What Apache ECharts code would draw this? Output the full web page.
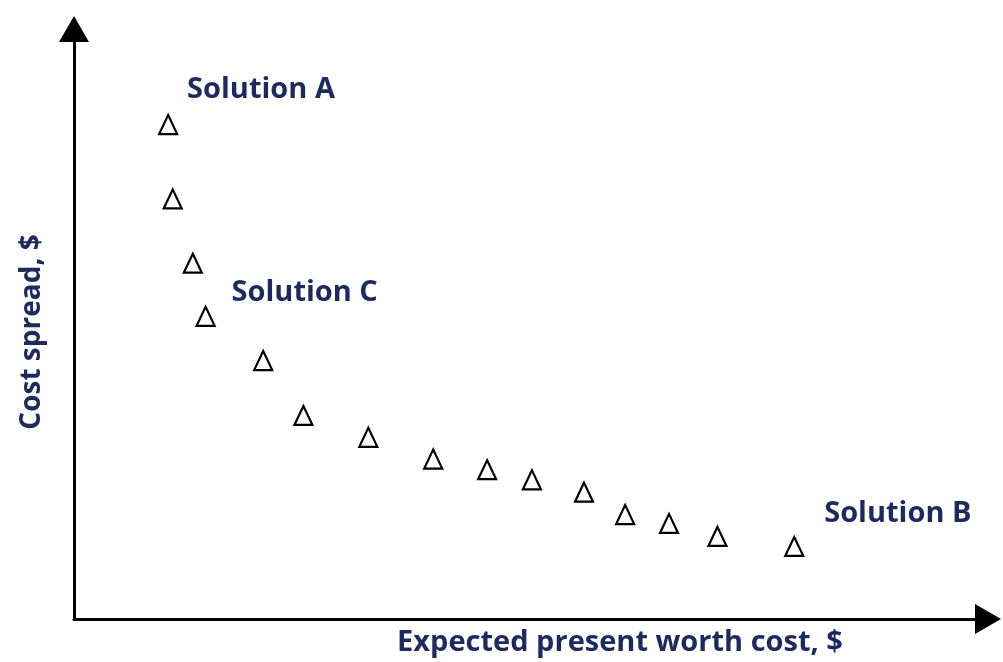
<!DOCTYPE html>
<html>
<head>
<meta charset="utf-8">
<script src="https://cdn.jsdelivr.net/npm/echarts@6/dist/echarts.min.js"></script>
<style>
  html, body { margin: 0; padding: 0; background: #ffffff; }
  #chart { width: 1003px; height: 662px; }
</style>
</head>
<body>
<div id="chart"></div>
<script>
// Trade-off front: expected present worth cost vs. cost spread (relative units)
const expectedCost = [10.3, 10.8, 13.0, 14.4, 20.7, 25.1, 32.2, 39.3, 45.2, 50.1, 55.8, 60.3, 65.1, 70.4, 78.8];
const costSpread   = [83.8, 71.2, 60.3, 51.3, 43.8, 34.5, 30.8, 27.1, 25.3, 23.6, 21.5, 17.7, 16.2, 14.0, 12.3];

// Named solutions on the front (point index -> caption)
const solutionIndex = [0, 3, 14];
const solutionName  = ['Solution A', 'Solution C', 'Solution B'];

const xTitle = 'Expected present worth cost, $';
const yTitle = 'Cost spread, $';

const navy = '#1f2a5c';
const fontFamily = '"Open Sans", "Noto Sans", sans-serif';

// Caption placement relative to each marker
const captionOffset = {
  'Solution A': [29, -24],
  'Solution C': [36, -13],
  'Solution B': [40, -22]
};

const points = expectedCost.map((x, i) => {
  const item = { value: [x, costSpread[i]] };
  const k = solutionIndex.indexOf(i);
  if (k >= 0) {
    const name = solutionName[k];
    item.label = {
      show: true,
      formatter: name,
      position: captionOffset[name],
      align: 'left',
      verticalAlign: 'middle',
      color: navy,
      fontFamily: fontFamily,
      fontWeight: 'bold',
      fontSize: 29
    };
  }
  return item;
});

const axisCommon = {
  type: 'value',
  min: 0,
  max: 100,
  splitLine: { show: false },
  axisTick: { show: false },
  axisLabel: { show: false },
  axisLine: {
    show: true,
    onZero: false,
    symbol: ['none', 'triangle'],
    symbolSize: [30, 26],
    lineStyle: { color: '#000000', width: 3 }
  },
  nameTextStyle: {
    color: navy,
    fontFamily: fontFamily,
    fontWeight: 'bold',
    fontSize: 29
  }
};

const chart = echarts.init(document.getElementById('chart'), null, { renderer: 'canvas' });
chart.setOption({
  animation: false,
  backgroundColor: '#ffffff',
  grid: { left: 74, right: 15, top: 29, bottom: 39, containLabel: false },
  xAxis: Object.assign({}, axisCommon, {
    name: xTitle,
    nameLocation: 'middle',
    nameGap: 9,
    nameTextStyle: Object.assign({}, axisCommon.nameTextStyle, {
      verticalAlign: 'top',
      padding: [0, 0, 0, 178]
    })
  }),
  yAxis: Object.assign({}, axisCommon, {
    name: yTitle,
    nameLocation: 'middle',
    nameGap: 28,
    nameTextStyle: Object.assign({}, axisCommon.nameTextStyle, {
      fontSize: 28,
      padding: [0, 16, 0, 0]
    })
  }),
  series: [{
    type: 'scatter',
    data: points,
    symbol: 'triangle',
    symbolSize: [18, 19],
    itemStyle: { color: '#ffffff', borderColor: '#000000', borderWidth: 2.2, opacity: 1 }
  }]
});
</script>
</body>
</html>
